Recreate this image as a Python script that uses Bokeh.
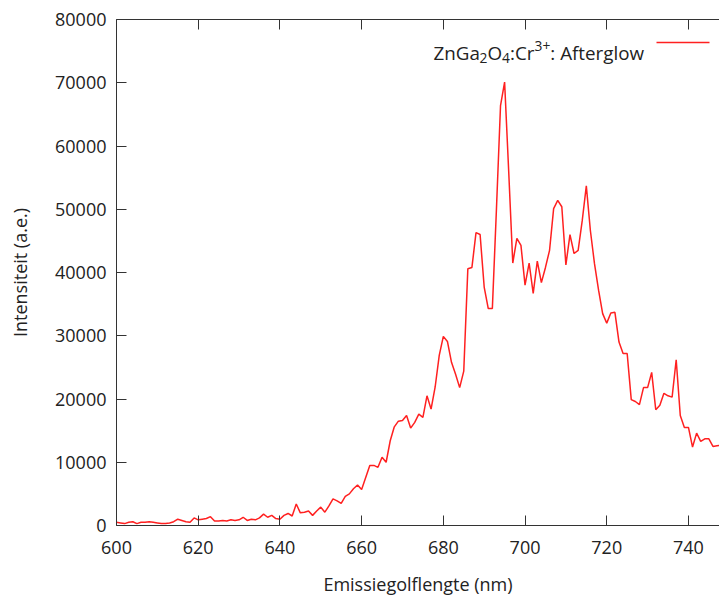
from bokeh.plotting import figure
from bokeh.models import LinearAxis, Label, Arrow, FixedTicker
from bokeh.embed import file_html
from bokeh.resources import INLINE

# Emission spectrum (afterglow), 1 nm steps
wavelength = list(range(600, 749))
intensity = [
    500, 400, 300, 500, 600, 300, 500, 500, 600, 500,
    400, 300, 300, 400, 600, 1000, 800, 600, 500, 1200,
    900, 1000, 1100, 1400, 700, 700, 800, 700, 900, 800,
    900, 1300, 800, 1000, 900, 1200, 1800, 1300, 1600, 1100,
    1000, 1600, 1900, 1500, 3400, 2000, 2100, 2300, 1600, 2300,
    2900, 2100, 3100, 4200, 3900, 3500, 4600, 5000, 5800, 6400,
    5700, 7600, 9500, 9500, 9200, 10800, 10000, 13400, 15600, 16500,
    16600, 17400, 15400, 16300, 17600, 17100, 20500, 18400, 21900, 26900,
    29900, 29100, 25800, 23900, 21800, 24400, 40600, 40800, 46300, 46000,
    37700, 34300, 34300, 50000, 66400, 70100, 56000, 41500, 45400, 44300,
    38000, 41500, 36700, 41800, 38400, 40800, 43500, 50100, 51400, 50400,
    41200, 46000, 43000, 43500, 48200, 53700, 46600, 41400, 37200, 33500,
    32000, 33600, 33700, 29000, 27200, 27200, 19900, 19600, 19100, 21800,
    21800, 24200, 18300, 19000, 20900, 20500, 20300, 26200, 17400, 15500,
    15500, 12400, 14600, 13300, 13700, 13700, 12500, 12600, 12700,
]
x_ticks = [600, 620, 640, 660, 680, 700, 720, 740]
y_ticks = [0, 10000, 20000, 30000, 40000, 50000, 60000, 70000, 80000]
# key text pieces: (text, 0 = normal, -1 = subscript, +1 = superscript)
series_label = [("ZnGa", 0), ("2", -1), ("O", 0), ("4", -1),
                (":Cr", 0), ("3+", 1), (": Afterglow", 0)]

FONT = "Open Sans"
FS = "18px"
TEXT_COL = "#222222"
LINE_RED = "#ff2020"
AXIS_COL = "#333333"

W, H = 719, 599
LEFT, TOP, BOTTOM = 116, 19, 74
X0, X1 = 600, 747.6
Y0, Y1 = 0, 80000

p = figure(width=W, height=H, x_range=(X0, X1), y_range=(Y0, Y1),
           output_backend="svg", toolbar_location=None,
           min_border_left=LEFT, min_border_right=0,
           min_border_top=TOP, min_border_bottom=BOTTOM,
           x_axis_label="Emissiegolflengte (nm)",
           y_axis_label="Intensiteit (a.e.)")
p.outline_line_color = None
p.xgrid.visible = False
p.ygrid.visible = False
p.background_fill_color = "white"
p.border_fill_color = "white"

bottom = p.below[0]
left = p.left[0]
top_axis = LinearAxis(major_label_text_font_size="0px", major_label_standoff=0,
                      major_label_text_alpha=0)
p.add_layout(top_axis, "above")

for ax in (bottom, left, top_axis):
    ax.axis_line_color = AXIS_COL
    ax.major_tick_line_color = AXIS_COL
    ax.major_tick_in = 10
    ax.major_tick_out = 0
    ax.minor_tick_line_color = None
    ax.major_label_text_font = FONT
    ax.major_label_text_color = TEXT_COL
    ax.axis_label_text_font = FONT
    ax.axis_label_text_font_style = "normal"
    ax.axis_label_text_color = TEXT_COL
    ax.axis_label_text_font_size = FS

bottom.ticker = FixedTicker(ticks=x_ticks)
top_axis.ticker = FixedTicker(ticks=x_ticks)
left.ticker = FixedTicker(ticks=y_ticks)

bottom.major_label_text_font_size = FS
left.major_label_text_font_size = FS
bottom.major_label_standoff = 15
bottom.axis_label_standoff = 15
left.major_label_standoff = 10
left.axis_label_standoff = 20

p.line(wavelength, intensity, line_color=LINE_RED, line_width=1.5)

# Key in the upper right: text followed by a line sample
frame_w = W - LEFT
frame_h = H - TOP - BOTTOM

def dx(px):
    return X0 + (px - LEFT) * (X1 - X0) / frame_w

def dy(py):
    return Y0 + (TOP + frame_h - py) * (Y1 - Y0) / frame_h

# approximate Open Sans advance widths (em units of 2048)
ADV = {" ": 532, ":": 545, "A": 1296, "C": 1292, "G": 1462, "O": 1593,
       "Z": 1165, "a": 1139, "e": 1149, "f": 694, "g": 1026, "l": 518,
       "n": 1257, "o": 1237, "r": 836, "t": 715, "w": 1610, "+": 1171}

def text_w(s, size):
    return sum(ADV.get(c, 1171) for c in s) / 2048 * size

MAIN, SMALL = 18.8, 13.8
BASE = 52
cx = 433
for txt, kind in series_label:
    size = MAIN if kind == 0 else SMALL
    py = BASE + (5 if kind < 0 else (-7 if kind > 0 else 0))
    p.add_layout(Label(x=dx(cx), y=dy(py), text=txt, text_font=FONT,
                       text_font_size=f"{size}px", text_color=TEXT_COL,
                       text_baseline="alphabetic", text_align="left"))
    cx += text_w(txt, size)

p.add_layout(Arrow(x_start=dx(656), y_start=dy(42), x_end=dx(709), y_end=dy(42),
                   end=None, line_color=LINE_RED, line_width=1.5))

open("out.html", "w").write(file_html(p, INLINE))
